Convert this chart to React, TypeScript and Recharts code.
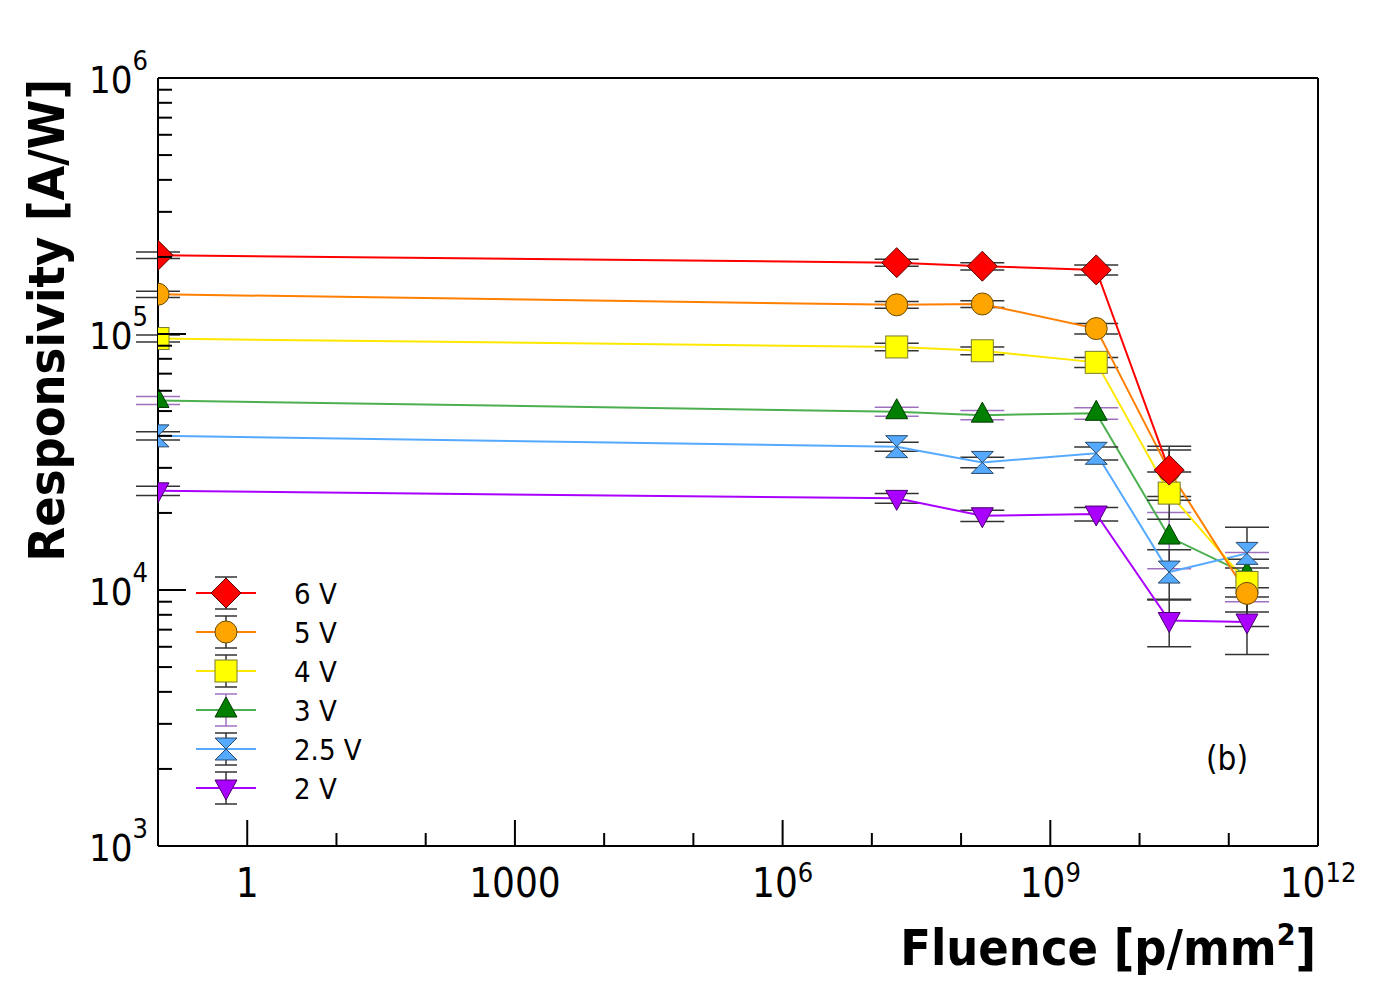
import React from 'react';
import { ComposedChart, Line, XAxis, YAxis, ErrorBar, Legend, ReferenceLine, Label } from 'recharts';

const FONT = "'DejaVu Sans Condensed', 'DejaVu Sans', sans-serif";

// Fluence values (p/mm^2); the un-irradiated point sits at the left edge of the axis
const fluence = [0.1, 1.9e7, 1.73e8, 3.27e9, 2.15e10, 1.6e11];

const seriesNames = ['6 V', '5 V', '4 V', '3 V', '2.5 V', '2 V'];

const resp6V = [2.03e5, 1.9e5, 1.84e5, 1.78e5, 2.94e4];
const err6V = [6000, 6000, 6000, 8000, 7000];
const resp5V = [1.43e5, 1.3e5, 1.31e5, 1.05e5, 2.92e4, 9.7e3];
const err5V = [4000, 4000, 4000, 5000, 6000, 2500];
const resp4V = [9.6e4, 8.9e4, 8.6e4, 7.75e4, 2.39e4, 1.07e4];
const err4V = [3000, 3000, 3000, 3500, 5000, 2500];
const resp3V = [5.5e4, 4.97e4, 4.82e4, 4.9e4, 1.61e4, 1.15e4];
const err3V = [2000, 2000, 2000, 2500, 4000, 2500];
const resp25V = [4.0e4, 3.63e4, 3.15e4, 3.42e4, 1.175e4, 1.39e4];
const err25V = [1500, 1500, 1500, 2000, 2600, 3700];
const resp2V = [2.44e4, 2.28e4, 1.95e4, 1.98e4, 7.6e3, 7.5e3];
const err2V = [1000, 1000, 1000, 1200, 1600, 1900];

const xMajorTicks = [1, 1e3, 1e6, 1e9, 1e12];
const xMajorBase = ['1', '1000', '10', '10', '10'];
const xMajorExp = ['', '', '6', '9', '12'];
const xMinorTicks = [10, 100, 1e4, 1e5, 1e7, 1e8, 1e10, 1e11];

const yMajorTicks = [1e3, 1e4, 1e5, 1e6];
const yMajorBase = ['10', '10', '10', '10'];
const yMajorExp = ['3', '4', '5', '6'];
const yMinorTicks = [
  2e3, 3e3, 4e3, 5e3, 6e3, 7e3, 8e3, 9e3,
  2e4, 3e4, 4e4, 5e4, 6e4, 7e4, 8e4, 9e4,
  2e5, 3e5, 4e5, 5e5, 6e5, 7e5, 8e5, 9e5,
];

const build = (vals: number[], errs: number[]) =>
  vals.map((v, i) => ({ x: fluence[i], y: v, err: errs[i] }));

type Shape = 'diamond' | 'circle' | 'square' | 'triUp' | 'hourglass' | 'triDown';

// legend order
const series = [
  { name: seriesNames[0], data: build(resp6V, err6V), line: '#ff0000', fill: '#ff0000', edge: '#5a0000', shape: 'diamond' as Shape, err: '#333333' },
  { name: seriesNames[1], data: build(resp5V, err5V), line: '#ff7f00', fill: '#ffa500', edge: '#6a4a00', shape: 'circle' as Shape, err: '#333333' },
  { name: seriesNames[2], data: build(resp4V, err4V), line: '#ffe800', fill: '#ffff00', edge: '#7a7a30', shape: 'square' as Shape, err: '#333333' },
  { name: seriesNames[3], data: build(resp3V, err3V), line: '#4caf50', fill: '#007f00', edge: '#003a00', shape: 'triUp' as Shape, err: '#a070c0' },
  { name: seriesNames[4], data: build(resp25V, err25V), line: '#55aaff', fill: '#55aaff', edge: '#2a4a6a', shape: 'hourglass' as Shape, err: '#333333' },
  { name: seriesNames[5], data: build(resp2V, err2V), line: '#aa00ff', fill: '#aa00ff', edge: '#4a0070', shape: 'triDown' as Shape, err: '#333333' },
];

// drawing order (later = on top)
const drawOrder = [3, 4, 5, 2, 1, 0];

const Marker = ({ cx, cy, shape, fill, edge }: { cx: number; cy: number; shape: Shape; fill: string; edge: string }) => {
  const common = { fill, stroke: edge, strokeWidth: 1 };
  switch (shape) {
    case 'diamond':
      return <polygon {...common} points={`${cx},${cy - 15} ${cx + 15},${cy} ${cx},${cy + 15} ${cx - 15},${cy}`} />;
    case 'circle':
      return <circle {...common} cx={cx} cy={cy} r={11} />;
    case 'square':
      return <rect {...common} x={cx - 11} y={cy - 11} width={22} height={22} />;
    case 'triUp':
      return <polygon {...common} points={`${cx},${cy - 13} ${cx + 11},${cy + 7} ${cx - 11},${cy + 7}`} />;
    case 'triDown':
      return <polygon {...common} points={`${cx - 11},${cy - 8} ${cx + 11},${cy - 8} ${cx},${cy + 12}`} />;
    case 'hourglass':
      return (
        <path
          {...common}
          d={`M${cx - 11},${cy - 11} L${cx + 11},${cy - 11} L${cx},${cy} Z M${cx - 11},${cy + 11} L${cx + 11},${cy + 11} L${cx},${cy} Z`}
        />
      );
    default:
      return null;
  }
};

const XTick = (props: any) => {
  const { x, y, payload } = props;
  const i = xMajorTicks.indexOf(payload.value);
  if (i < 0) {
    return <line x1={x} x2={x} y1={y} y2={y - 13} stroke="#000" strokeWidth={2} />;
  }
  return (
    <g>
      <line x1={x} x2={x} y1={y} y2={y - 26} stroke="#000" strokeWidth={2} />
      <text x={x} y={y + 51} textAnchor="middle" fontSize={40} fontFamily={FONT} fill="#000">
        {xMajorBase[i]}
        {xMajorExp[i] ? (
          <tspan dy={-15} fontSize={27}>
            {xMajorExp[i]}
          </tspan>
        ) : null}
      </text>
    </g>
  );
};

const YTick = (props: any) => {
  const { x, y, payload } = props;
  const i = yMajorTicks.indexOf(payload.value);
  if (i < 0) {
    return <line x1={x} x2={x + 14} y1={y} y2={y} stroke="#000" strokeWidth={2} />;
  }
  return (
    <g>
      <line x1={x} x2={x + 28} y1={y} y2={y} stroke="#000" strokeWidth={2} />
      <text x={x - 10} y={y + 15} textAnchor="end" fontSize={38} fontFamily={FONT} fill="#000">
        {yMajorBase[i]}
        <tspan dy={-23} fontSize={27}>
          {yMajorExp[i]}
        </tspan>
      </text>
    </g>
  );
};

const LegendContent = (props: any) => {
  const names = (props.payload || []).map((p: any) => p.value);
  const items = series.filter((s) => names.length === 0 || names.includes(s.name));
  return (
    <svg width={220} height={240} style={{ display: 'block' }}>
      {items.map((s, i) => {
        const cy = 23 + i * 39;
        const cx = 36;
        return (
          <g key={s.name}>
            <line x1={6} x2={66} y1={cy} y2={cy} stroke={s.line} strokeWidth={2} />
            <line x1={cx} x2={cx} y1={cy - 16} y2={cy + 16} stroke={s.err} strokeWidth={1.5} />
            <line x1={cx - 11} x2={cx + 11} y1={cy - 16} y2={cy - 16} stroke={s.err} strokeWidth={1.5} />
            <line x1={cx - 11} x2={cx + 11} y1={cy + 16} y2={cy + 16} stroke={s.err} strokeWidth={1.5} />
            <Marker cx={cx} cy={cy} shape={s.shape} fill={s.fill} edge={s.edge} />
            <text x={104} y={cy + 11} fontSize={29} fontFamily={FONT} fill="#000">
              {s.name}
            </text>
          </g>
        );
      })}
    </svg>
  );
};

const XTitle = () => (
  <g>
    <text x={1316} y={965} textAnchor="end" fontSize={50} fontWeight="bold" fontFamily={FONT} fill="#000">
      Fluence [p/mm
      <tspan dy={-20} fontSize={30}>
        2
      </tspan>
      <tspan dy={20}>]</tspan>
    </text>
    <text x={1227} y={770} textAnchor="middle" fontSize={33} fontFamily={FONT} fill="#000">
      (b)
    </text>
  </g>
);

const YTitle = () => (
  <text
    transform="rotate(-90)"
    x={-79}
    y={64}
    textAnchor="end"
    fontSize={50}
    fontWeight="bold"
    fontFamily={FONT}
    fill="#000"
  >
    Responsivity [A/W]
  </text>
);

const xTicks = [...xMajorTicks, ...xMinorTicks].sort((a, b) => a - b);
const yTicks = [...yMajorTicks, ...yMinorTicks].sort((a, b) => a - b);

export default function App() {
  return (
    <div style={{ position: 'absolute', left: 0, top: 0, width: 1377, height: 984, background: '#fff' }}>
      <ComposedChart width={1377} height={984} margin={{ top: 78, right: 59, bottom: 0, left: 8 }}>
        <XAxis
          dataKey="x"
          type="number"
          scale="log"
          domain={[0.1, 1e12]}
          allowDataOverflow
          ticks={xTicks}
          interval={0}
          tick={<XTick />}
          tickLine={false}
          tickSize={0}
          tickMargin={0}
          height={138}
          axisLine={{ stroke: '#000', strokeWidth: 2 }}
        >
          <Label content={<XTitle />} />
        </XAxis>
        <YAxis
          type="number"
          scale="log"
          domain={[1e3, 1e6]}
          allowDataOverflow
          ticks={yTicks}
          interval={0}
          tick={<YTick />}
          tickLine={false}
          tickSize={0}
          tickMargin={0}
          width={150}
          axisLine={{ stroke: '#000', strokeWidth: 2 }}
        >
          <Label content={<YTitle />} />
        </YAxis>
        <ReferenceLine y={1e6} stroke="#000" strokeWidth={2} />
        <ReferenceLine x={1e12} stroke="#000" strokeWidth={2} />
        {drawOrder.map((k) => {
          const s = series[k];
          return (
            <Line
              key={s.name}
              name={s.name}
              data={s.data}
              dataKey="y"
              type="linear"
              stroke={s.line}
              strokeWidth={2}
              isAnimationActive={false}
              activeDot={false}
              dot={(p: any) => (
                <Marker key={`${s.name}-${p.index}`} cx={p.cx} cy={p.cy} shape={s.shape} fill={s.fill} edge={s.edge} />
              )}
            >
              <ErrorBar dataKey="err" direction="y" width={22} stroke={s.err} strokeWidth={1.5} isAnimationActive={false} />
            </Line>
          );
        })}
        <Legend
          layout="vertical"
          align="center"
          verticalAlign="middle"
          content={<LegendContent />}
          wrapperStyle={{ left: 190, top: 570, width: 220, height: 240 }}
        />
      </ComposedChart>
    </div>
  );
}
